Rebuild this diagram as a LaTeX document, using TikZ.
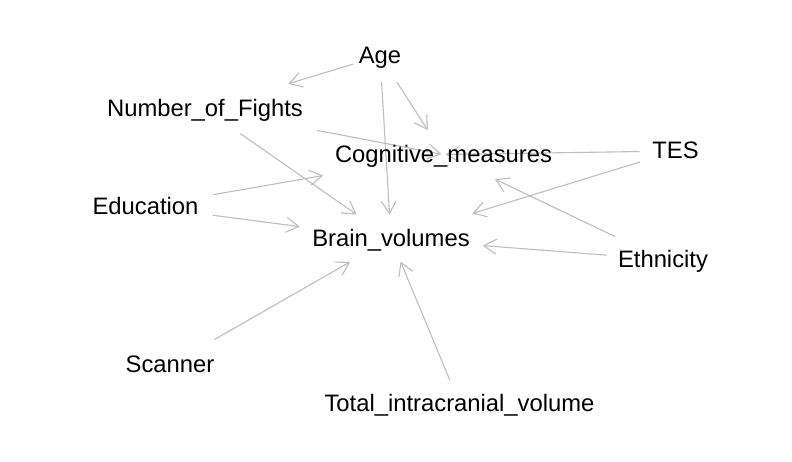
\documentclass[tikz,border=0pt]{standalone}
\usepackage{fontspec}
\setmainfont{Liberation Sans}
\usetikzlibrary{arrows.meta,backgrounds}
\definecolor{edgegray}{RGB}{190,190,190}
\tikzset{
  lbl/.style={anchor=base, inner sep=0pt, text height=20pt, text depth=5pt,
    font=\fontsize{23.8}{28}\selectfont},
  edge/.style={draw=edgegray, line width=1.1pt,
    -{Straight Barb[length=12.5pt,width=15pt]}},
}
\begin{document}
\begin{tikzpicture}[x=1pt,y=-1pt]
\useasboundingbox (0,0) rectangle (792,461);
\node[lbl] (age) at (380,63.5) {Age};
\node[lbl] (nof) at (205,116.5) {Number\_of\_Fights};
\node[lbl] (cog) at (443.5,162) {Cognitive\_measures};
\node[lbl] (tes) at (675.5,158.5) {TES};
\node[lbl] (edu) at (145.5,214) {Education};
\node[lbl] (brain) at (391,246) {Brain\_volumes};
\node[lbl] (eth) at (663,267) {Ethnicity};
\node[lbl] (scan) at (170,372.5) {Scanner};
\node[lbl] (tiv) at (459.5,411) {Total\_intracranial\_volume};

\begin{scope}[on background layer]
\fill[white] (0,0) rectangle (792,461);
\draw[edge, shorten <=28pt, shorten >=87pt] (age.center) -- (nof.center);
\draw[edge, shorten <=31pt, shorten >=29pt] (age.center) -- (cog.center);
\draw[edge, shorten <=26pt, shorten >=24pt] (age.center) -- (brain.center);
\draw[edge, shorten <=43pt, shorten >=42pt] (nof.center) -- (brain.center);
\draw[edge, shorten <=114pt, shorten >=2pt] (nof.center) -- (cog.center);
\draw[edge, shorten <=36pt, shorten >=2pt] (tes.center) -- (cog.center);
\draw[edge, shorten <=37pt, shorten >=85pt] (tes.center) -- (brain.center);
\draw[edge, shorten <=53pt, shorten >=57pt] (eth.center) -- (cog.center);
\draw[edge, shorten <=56pt, shorten >=92pt] (eth.center) -- (brain.center);
\draw[edge, shorten <=69pt, shorten >=122pt] (edu.center) -- (cog.center);
\draw[edge, shorten <=68pt, shorten >=92pt] (edu.center) -- (brain.center);
\draw[edge, shorten <=51pt, shorten >=47pt] (scan.center) -- (brain.center);
\draw[edge, shorten <=25pt, shorten >=25pt] (tiv.center) -- (brain.center);
\end{scope}
\end{tikzpicture}
\end{document}
